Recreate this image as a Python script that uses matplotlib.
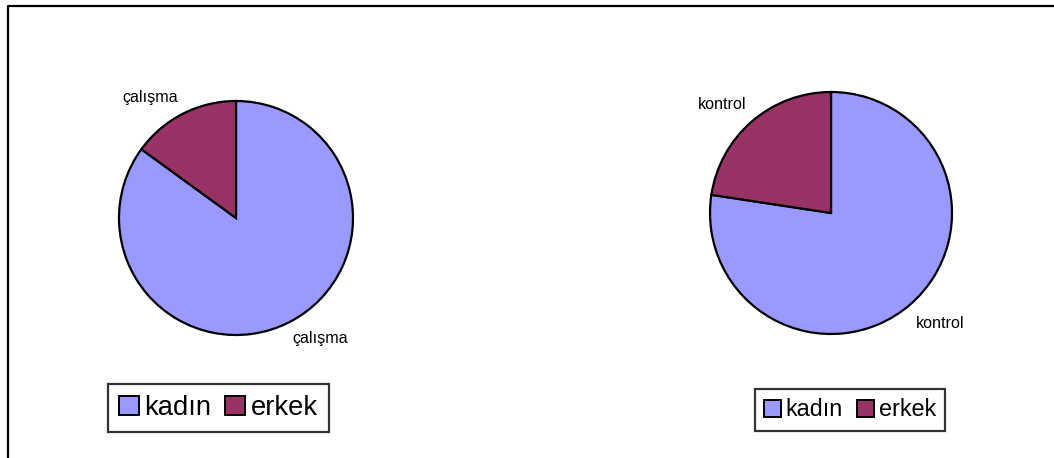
import matplotlib
matplotlib.use("Agg")
import matplotlib.pyplot as plt
from matplotlib.lines import Line2D
from matplotlib.patches import Patch

plt.rcParams['font.family'] = ['Liberation Sans', 'DejaVu Sans']

categories = ["kadın", "erkek"]
colors = ["#9999FF", "#993366"]
calisma_values = [85.0, 15.0]
kontrol_values = [77.4, 22.6]
group_labels = ["çalışma", "kontrol"]

W, H = 1054, 458
fig = plt.figure(figsize=(W / 100, H / 100), dpi=100)
fig.patch.set_facecolor("white")

# outer frame (top and left edges visible)
fig.add_artist(Line2D([8 / W, 8 / W, 1.0], [0.0, 1 - 6 / H, 1 - 6 / H],
                      transform=fig.transFigure, color="black", lw=1.6))

def make_pie(cx, cy, R, values, label, lab_pos, legend_center, legend_fs, handle_sz, colsp):
    half = 180
    ax = fig.add_axes([(cx - half) / W, 1 - (cy + half) / H, 2 * half / W, 2 * half / H])
    lim = half / R
    wedges, _ = ax.pie(values, colors=colors, startangle=90, counterclock=False,
                       wedgeprops=dict(edgecolor="black", linewidth=1.6))
    ax.set_xlim(-lim, lim)
    ax.set_ylim(-lim, lim)
    ax.set_aspect("equal")
    ax.axis("off")
    for (x, y) in lab_pos:
        ax.text(x, y, label, ha="center", va="center", fontsize=11.6, color="black")
    handles = [Patch(facecolor=c, edgecolor="black", linewidth=1.4) for c in colors]
    leg = fig.legend(handles, categories, loc="center",
                     bbox_to_anchor=(legend_center[0] / W, 1 - legend_center[1] / H),
                     ncol=2, fontsize=legend_fs, frameon=True, fancybox=False,
                     handlelength=handle_sz, handleheight=handle_sz, handletextpad=0.2,
                     columnspacing=colsp, borderpad=0.4, borderaxespad=0)
    fr = leg.get_frame()
    fr.set_edgecolor("black")
    fr.set_linewidth(1.6)
    return ax

make_pie(236, 218, 117, calisma_values, group_labels[0],
         [(-0.735, 1.03), (0.72, -1.03)], (218.5, 408), 19.7, 0.72, 0.5)
make_pie(831, 213, 121, kontrol_values, group_labels[1],
         [(-0.90, 0.90), (0.90, -0.91)], (850, 410), 16.8, 0.72, 0.6)

fig.savefig("out.png", dpi=100, facecolor="white")
